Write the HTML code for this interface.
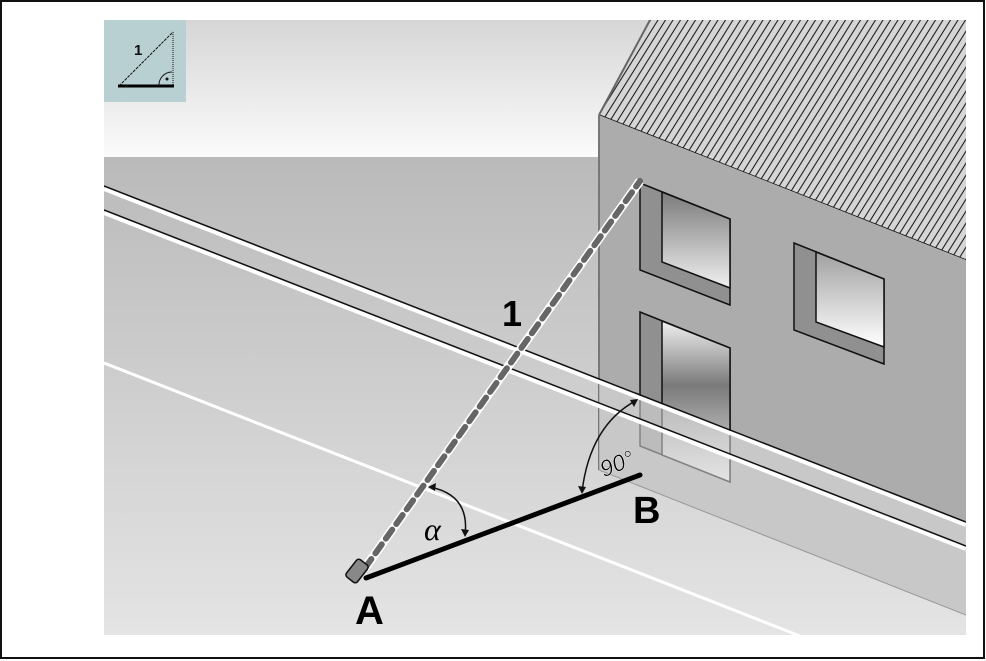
<!DOCTYPE html>
<html><head><meta charset="utf-8"><style>
html,body{margin:0;padding:0;background:#fff}
svg{display:block}
</style></head><body>
<svg width="986" height="661" viewBox="0 0 986 661" xmlns="http://www.w3.org/2000/svg">
<defs>
<linearGradient id="sky" x1="0" y1="0" x2="0" y2="1"><stop offset="0" stop-color="#d6d6d6"/><stop offset="1" stop-color="#fbfbfb"/></linearGradient>
<linearGradient id="gnd" x1="0" y1="0" x2="0" y2="1"><stop offset="0" stop-color="#bababa"/><stop offset="1" stop-color="#e4e4e4"/></linearGradient>
<linearGradient id="gl1" x1="0" y1="0" x2="0" y2="1"><stop offset="0" stop-color="#7a7a7a"/><stop offset="1" stop-color="#f0f0f0"/></linearGradient>
<linearGradient id="gl2" x1="0" y1="0" x2="0" y2="1"><stop offset="0" stop-color="#a0a0a0"/><stop offset="1" stop-color="#ffffff"/></linearGradient>
<linearGradient id="gl3" x1="0" y1="0" x2="0" y2="1"><stop offset="0" stop-color="#f0f0f0"/><stop offset="0.4" stop-color="#7a7a7a"/><stop offset="1" stop-color="#e8e8e8"/></linearGradient>
<pattern id="hatch" width="7.5" height="20" patternUnits="userSpaceOnUse" patternTransform="skewX(-32)">
<rect width="7.5" height="20" fill="#d6d6d6"/><line x1="3" y1="0" x2="3" y2="20" stroke="#111" stroke-width="1.2"/></pattern>
<clipPath id="cc"><rect x="104" y="20" width="862" height="615"/></clipPath>
</defs>
<rect x="1" y="1" width="983" height="657" fill="#fff" stroke="#111" stroke-width="2"/>
<g clip-path="url(#cc)">
<rect x="104" y="20" width="862" height="137" fill="url(#sky)"/>
<rect x="104" y="157" width="862" height="478" fill="url(#gnd)"/>
<polygon points="599,115 650,20 966,20 966,260" fill="url(#hatch)"/>
<line x1="599" y1="115" x2="966" y2="260" stroke="#111" stroke-width="1.5"/>
<line x1="599" y1="115" x2="650" y2="20" stroke="#666" stroke-width="2"/>
<polygon points="599,115 966,260 966,615 599,470" fill="#acacac"/>
<line x1="599" y1="115" x2="599" y2="470" stroke="#777" stroke-width="2"/>
<polygon points="640,183 730,219 730,305 640,270" fill="#909090" stroke="#111" stroke-width="1.5"/>
<polygon points="662,192 730,219 730,288 662,262" fill="url(#gl1)" stroke="#111" stroke-width="1.5"/>
<polygon points="794,243 884,279 884,364 794,330" fill="#909090" stroke="#111" stroke-width="1.5"/>
<polygon points="816,252 884,279 884,347 816,322" fill="url(#gl2)" stroke="#111" stroke-width="1.5"/>
<polygon points="640,312 730,348 730,482 640,446" fill="#909090" stroke="#111" stroke-width="1.5"/>
<polygon points="662,321 730,348 730,482 662,455" fill="url(#gl3)" stroke="#111" stroke-width="1.5"/>
<polygon points="599,382 966,525 966,615 599,470" fill="#e0e0e0" opacity="0.55"/>
<line x1="599" y1="470" x2="966" y2="615" stroke="#999" stroke-width="1"/>
<line x1="104" y1="189" x2="966" y2="525" stroke="#fff" stroke-width="4"/>
<line x1="104" y1="186" x2="966" y2="522" stroke="#111" stroke-width="1.5"/>
<line x1="104" y1="213" x2="966" y2="549" stroke="#fff" stroke-width="4"/>
<line x1="104" y1="210" x2="966" y2="546" stroke="#111" stroke-width="1.5"/>
<line x1="104" y1="363" x2="800" y2="636" stroke="#fff" stroke-width="3"/>
<line x1="365" y1="568" x2="640" y2="181" stroke="#fff" stroke-width="9"/>
<line x1="365" y1="568" x2="640" y2="181" stroke="#666" stroke-width="6" stroke-dasharray="11,7" stroke-linecap="round"/>
<line x1="366" y1="578" x2="640" y2="475" stroke="#000" stroke-width="5" stroke-linecap="round"/>
<rect x="350" y="560" width="14" height="22" rx="3" fill="#888" stroke="#111" stroke-width="1.5" transform="rotate(38 357 571)"/>
<path d="M430,487 Q470,495 465,535" fill="none" stroke="#111" stroke-width="1.5"/>
<polygon points="428,487 436,483 435,491" fill="#111"/>
<polygon points="465,537 461,529 469,530" fill="#111"/>
<path d="M637,400 Q590,425 582,492" fill="none" stroke="#111" stroke-width="1.5"/>
<polygon points="638,399 630,400 634,407" fill="#111"/>
<polygon points="582,494 578,486 586,487" fill="#111"/>
</g>
<rect x="104" y="20" width="82" height="82" fill="#b9d0d3"/>
<line x1="119" y1="86" x2="173" y2="32" stroke="#111" stroke-width="1" stroke-dasharray="3,1"/>
<line x1="173" y1="32" x2="173" y2="86" stroke="#111" stroke-width="1" stroke-dasharray="1,1"/>
<line x1="118" y1="86" x2="174" y2="86" stroke="#000" stroke-width="3"/>
<path d="M159,86 A13,13 0 0 1 172,72" fill="none" stroke="#111" stroke-width="1"/>
<circle cx="167" cy="79" r="1.5" fill="#111"/>
<text x="134" y="55" font-family="Liberation Sans, sans-serif" font-weight="bold" font-size="15" fill="#111">1</text>
<text x="502" y="326" font-family="Liberation Sans Narrow, Liberation Sans, sans-serif" font-weight="bold" font-size="36" fill="#000">1</text>
<text x="355" y="624" font-family="Liberation Sans Narrow, Liberation Sans, sans-serif" font-weight="bold" font-size="40" fill="#000">A</text>
<text x="633" y="523" font-family="Liberation Sans Narrow, Liberation Sans, sans-serif" font-weight="bold" font-size="38" fill="#000">B</text>
<text x="424" y="540" font-family="Liberation Serif, serif" font-style="italic" font-size="32" fill="#000">α</text>
<text x="598" y="472" font-family="Liberation Sans, sans-serif" font-style="italic" font-size="23" fill="#000" stroke="#fff" stroke-width="0.4" transform="rotate(-22 615 460)">90°</text>
</svg>
</body></html>
